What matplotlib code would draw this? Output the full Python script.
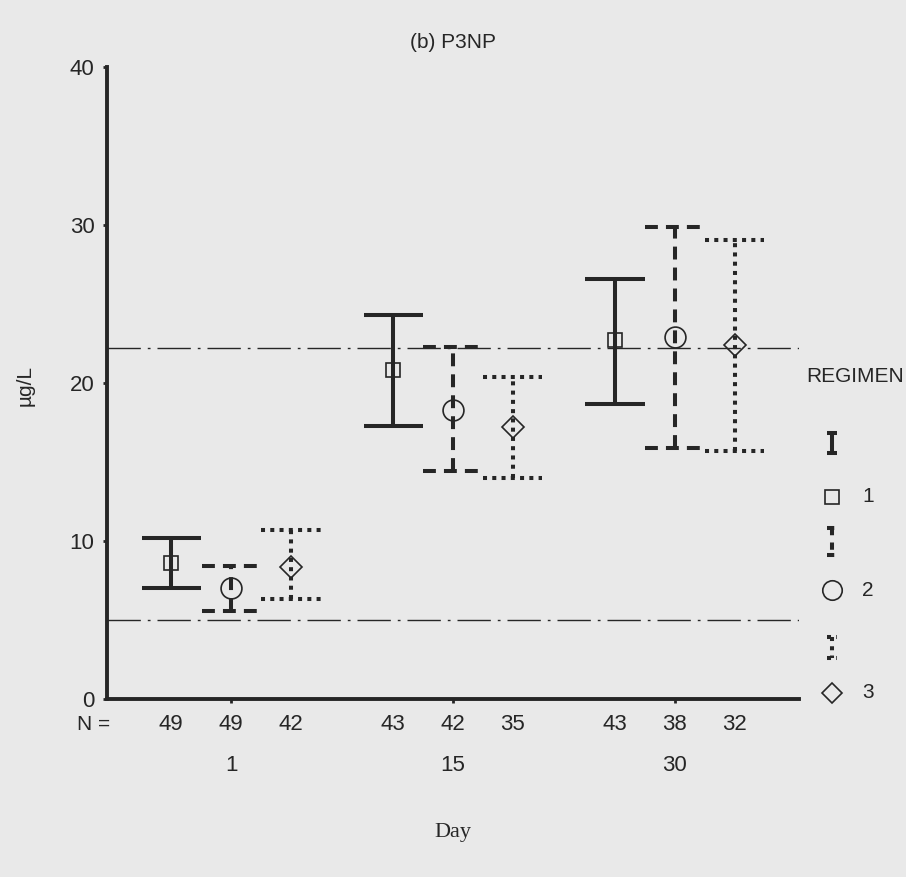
import matplotlib
matplotlib.use("Agg")
import matplotlib.pyplot as plt
import numpy as np

# ---- data -------------------------------------------------------------
days = ["1", "15", "30"]
regimens = ["1", "2", "3"]
n_counts = [[49, 49, 42], [43, 42, 35], [43, 38, 32]]   # per day, per regimen

mean_r1 = [8.6, 20.8, 22.7]
lower_r1 = [7.0, 17.3, 18.7]
upper_r1 = [10.2, 24.3, 26.6]

mean_r2 = [7.0, 18.3, 22.9]
lower_r2 = [5.6, 14.4, 15.9]
upper_r2 = [8.4, 22.3, 29.9]

mean_r3 = [8.35, 17.2, 22.4]
lower_r3 = [6.3, 14.0, 15.7]
upper_r3 = [10.7, 20.4, 29.05]

reference_limits = [5.0, 22.2]
y_ticks = [0, 10, 20, 30, 40]

# ---- styling ----------------------------------------------------------
BG = "#e9e9e9"
INK = "#262626"
FONT = ["Liberation Sans", "DejaVu Sans"]
plt.rcParams["font.family"] = FONT

LW = 2.9
line_styles = ["-", (0, (3.2, 2.0)), (0, (1.0, 1.3))]
markers = ["s", "o", "D"]
marker_sizes = [10.5, 15, 11]
offsets = [-0.27, 0.0, 0.27]
cap_half = 0.133

fig = plt.figure(figsize=(9.06, 8.77), dpi=100, facecolor=BG)
ax = fig.add_axes([107 / 906, 1 - 699 / 877, (799 - 107) / 906, (699 - 67) / 877])
ax.set_facecolor(BG)

means = [mean_r1, mean_r2, mean_r3]
lowers = [lower_r1, lower_r2, lower_r3]
uppers = [upper_r1, upper_r2, upper_r3]
group_x = np.arange(len(days))

for ri in range(len(regimens)):
    for gi in range(len(days)):
        x = group_x[gi] + offsets[ri]
        lo, hi, m = lowers[ri][gi], uppers[ri][gi], means[ri][gi]
        kw = dict(color=INK, lw=LW, linestyle=line_styles[ri],
                  solid_capstyle="butt", dash_capstyle="butt", zorder=3)
        ax.plot([x, x], [lo, hi], **kw)
        ax.plot([x - cap_half, x + cap_half], [lo, lo], **kw)
        ax.plot([x - cap_half, x + cap_half], [hi, hi], **kw)
        ax.plot([x], [m], marker=markers[ri], ms=marker_sizes[ri],
                mfc="none", mec=INK, mew=1.2, zorder=4)

for ref in reference_limits:
    ax.axhline(ref, color=INK, lw=1.0, linestyle=(0, (24, 5, 2, 5)), zorder=2)

ax.set_xlim(-0.559, 2.559)
ax.set_ylim(0, 40)
ax.set_yticks(y_ticks)
ax.set_yticklabels([str(t) for t in y_ticks], fontsize=16, color=INK)
ax.set_xticks(group_x)
ax.set_xticklabels([])
ax.tick_params(axis="y", length=3, width=2, pad=6, color=INK)
ax.tick_params(axis="x", length=3, width=2, color=INK)
for side in ["top", "right"]:
    ax.spines[side].set_visible(False)
for side in ["left", "bottom"]:
    ax.spines[side].set_linewidth(2.8)
    ax.spines[side].set_color(INK)

# N counts and day labels under the axis
xt = ax.get_xaxis_transform()
ax.text(-0.62, -0.04, "N =", transform=xt, ha="center", va="center",
        fontsize=15, color=INK)
for gi in range(len(days)):
    for ri in range(len(regimens)):
        ax.text(group_x[gi] + offsets[ri], -0.04, str(n_counts[gi][ri]),
                transform=xt, ha="center", va="center", fontsize=16, color=INK)
    ax.text(group_x[gi], -0.105, days[gi], transform=xt, ha="center",
            va="center", fontsize=16, color=INK)

fig.text(453 / 906, 1 - 42 / 877, "(b) P3NP", ha="center", va="center",
         fontsize=15, color=INK)
fig.text(25 / 906, 1 - 385 / 877, "µg/L", ha="center", va="center",
         rotation=90, fontsize=15, color=INK)
fig.text(453 / 906, 1 - 833 / 877, "Day", ha="center", va="center",
         fontsize=16, color=INK, family=["Liberation Serif", "DejaVu Serif"])

# ---- legend (pixel-space overlay) -------------------------------------
lg = fig.add_axes([0, 0, 1, 1], facecolor="none")
lg.set_xlim(0, 906)
lg.set_ylim(877, 0)
lg.axis("off")
lg.text(855, 376, "REGIMEN", ha="center", va="center", fontsize=15, color=INK)
glyph_top = [433, 528, 637]
glyph_bot = [453, 555, 658]
marker_y = [497, 590, 693]
legend_styles = ["-", (0, (1.8, 1.8)), (0, (1.0, 1.3))]
for ri in range(len(regimens)):
    kw = dict(color=INK, lw=LW, linestyle=legend_styles[ri],
              solid_capstyle="butt", dash_capstyle="butt")
    lg.plot([832, 832], [glyph_top[ri], glyph_bot[ri]], **kw)
    lg.plot([827, 837], [glyph_top[ri], glyph_top[ri]], **kw)
    lg.plot([827, 837], [glyph_bot[ri], glyph_bot[ri]], **kw)
    lg.plot([832], [marker_y[ri]], marker=markers[ri], ms=marker_sizes[ri] - 1,
            mfc="none", mec=INK, mew=1.2)
    lg.text(862, marker_y[ri], regimens[ri], ha="left", va="center",
            fontsize=15, color=INK)

fig.savefig("out.png", dpi=100, facecolor=BG)
